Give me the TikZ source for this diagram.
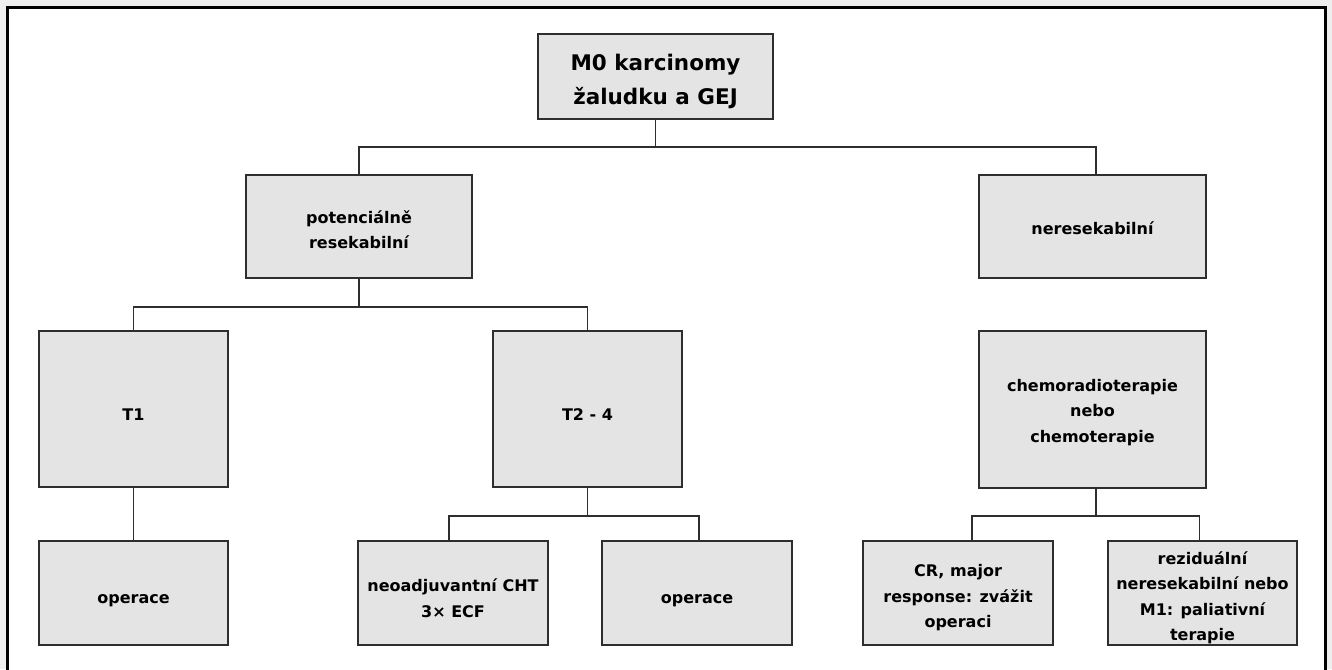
\documentclass[tikz,border=0pt]{standalone}
\usepackage{fontspec}
\setmainfont{DejaVu Sans}
\definecolor{boxgray}{HTML}{E3E4E3}
\definecolor{pagegray}{HTML}{EEEEEE}
\definecolor{edge}{HTML}{2E2E2E}
\begin{document}
\begin{tikzpicture}[x=1pt,y=-1pt,
  box/.style={draw=edge, line width=1.3pt, fill=boxgray, inner sep=0pt},
  txt/.style={align=center, inner sep=0pt,
    font=\bfseries\fontsize{16}{25.5}\selectfont},
  title/.style={txt, font=\bfseries\fontsize{21.5}{34}\selectfont},
  link/.style={draw=edge, line width=1.3pt}]
\useasboundingbox (0,0) rectangle (1332,669);
\clip (0,0) rectangle (1332,669);
% page and outer frame
\fill[pagegray] (0,0) rectangle (1332,669);
\draw[line width=2.8pt, fill=white] (7.5,7.5) rectangle (1325.5,690);

% level 0
\node[box, minimum width=235, minimum height=85,
  label={[title,yshift=-5pt]center:{M0 karcinomy\\žaludku a GEJ}}] (root) at (655.5,76.5) {};
% level 1
\node[box, minimum width=226, minimum height=103,
  label={[txt,yshift=-3pt]center:{potenciálně\\resekabilní}}] (pot) at (359,226.5) {};
\node[box, minimum width=227, minimum height=103,
  label={[txt,yshift=-2pt]center:neresekabilní}] (ner) at (1092.5,226.5) {};
% level 2
\node[box, minimum width=189, minimum height=156,
  label={[txt,yshift=-6pt]center:T1}] (t1) at (133.5,409) {};
\node[box, minimum width=189, minimum height=156,
  label={[txt,yshift=-6pt]center:T2 - 4}] (t2) at (587.5,409) {};
\node[box, minimum width=227, minimum height=157,
  label={[txt,yshift=-3pt]center:{chemoradioterapie\\nebo\\chemoterapie}}] (chem) at (1092.5,409.5) {};
% level 3
\node[box, minimum width=189, minimum height=104,
  label={[txt,yshift=-8pt]center:operace}] (op1) at (133.5,593) {};
\node[box, minimum width=190, minimum height=104,
  label={[txt,yshift=-5pt]center:{neoadjuvantní CHT\\3× ECF}}] (neo) at (453,593) {};
\node[box, minimum width=190, minimum height=104,
  label={[txt,yshift=-8pt]center:operace}] (op2) at (697,593) {};
\node[box, minimum width=190, minimum height=104,
  label={[txt,yshift=-5pt]center:{CR, major\\response: zvážit\\operaci}}] (cr) at (958,593) {};
\node[box, minimum width=189, minimum height=104,
  label={[txt,yshift=-5pt]center:{reziduální\\neresekabilní nebo\\M1: paliativní\\terapie}}] (rez) at (1202.5,593) {};

% connectors
\coordinate (j0) at (655.5,147);
\coordinate (j1) at (359,307);
\coordinate (j2) at (587.5,516);
\coordinate (j3) at (1096,516);
\draw[link] (root.south) -- (j0);
\draw[link] (pot.north) |- (j0) -| ([xshift=3.5pt]ner.north);
\draw[link] (pot.south) -- (j1);
\draw[link] (t1.north) |- (j1) -| (t2.north);
\draw[link] (t1.south) -- (op1.north);
\draw[link] (t2.south) -- (j2);
\draw[link] ([xshift=-4pt]neo.north) |- (j2) -| ([xshift=2pt]op2.north);
\draw[link] ([xshift=3.5pt]chem.south) -- (j3);
\draw[link] ([xshift=14pt]cr.north) |- (j3) -| ([xshift=-3pt]rez.north);
\end{tikzpicture}
\end{document}
